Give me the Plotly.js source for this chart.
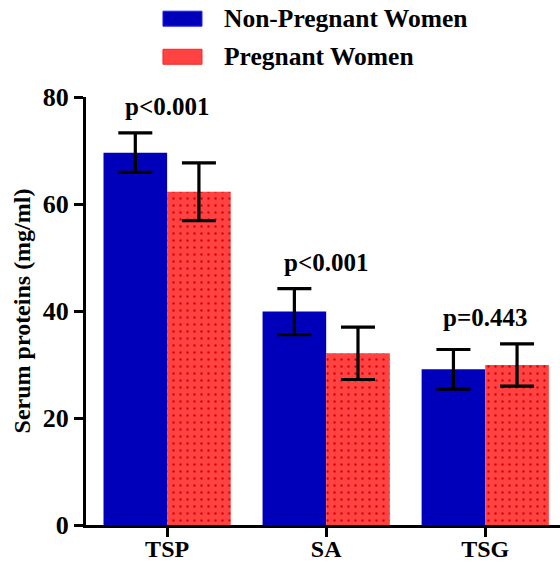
<!DOCTYPE html>
<html>
<head>
<meta charset="utf-8">
<script src="https://cdn.plot.ly/plotly-3.0.1.min.js"></script>
<style>html,body{margin:0;padding:0;background:#fff;}#chart{width:560px;height:562px;}</style>
</head>
<body>
<div id="chart"></div>
<script>
const categories = ["TSP", "SA", "TSG"];
const nonPregnantMean = [69.6, 39.9, 29.1];
const nonPregnantSD = [3.7, 4.3, 3.7];
const pregnantMean = [62.3, 32.1, 29.9];
const pregnantSD = [5.4, 4.9, 3.95];
const pValues = ["p<0.001", "p<0.001", "p=0.443"];
const seriesNames = ["Non-Pregnant Women", "Pregnant Women"];
const yTicks = [0, 20, 40, 60, 80];

const FONT = "'Liberation Serif', 'Times New Roman', serif";
const BLUE = "#0000bb";
const RED = "#ff4343";

const errStyle = {type: "data", visible: true, color: "#000", thickness: 3.2, width: 17};

const traces = [
  {
    type: "bar", name: seriesNames[0], x: categories, y: nonPregnantMean,
    marker: {color: BLUE, line: {width: 0}},
    error_y: Object.assign({array: nonPregnantSD}, errStyle),
    showlegend: false
  },
  {
    type: "bar", name: seriesNames[1], x: categories, y: pregnantMean,
    marker: {color: RED, line: {width: 0},
      pattern: {shape: ".", fgcolor: "#e00000", bgcolor: RED, size: 7, solidity: 0.1, fillmode: "replace"}},
    error_y: Object.assign({array: pregnantSD}, errStyle),
    showlegend: false
  }
];

const annotations = categories.map((c, i) => ({
  xref: "x", yref: "y", x: c,
  y: Math.max(nonPregnantMean[i] + nonPregnantSD[i], pregnantMean[i] + pregnantSD[i]) + 2.0,
  yanchor: "bottom", xanchor: "center", showarrow: false,
  text: "<b>" + pValues[i] + "</b>",
  font: {family: FONT, size: 25, color: "#000"}
}));

// custom legend
const legendY = [1.183, 1.094];
const legendColors = [BLUE, RED];
const shapes = [];
seriesNames.forEach((n, i) => {
  shapes.push({
    type: "rect", xref: "paper", yref: "paper",
    x0: 0.1624, x1: 0.2447, y0: legendY[i] - 0.0175, y1: legendY[i] + 0.0175,
    fillcolor: legendColors[i], line: {width: 1, color: i === 0 ? "#2020ff" : "#ff2020"}
  });
  annotations.push({
    xref: "paper", yref: "paper", x: 0.287, y: legendY[i],
    xanchor: "left", yanchor: "middle", showarrow: false,
    text: "<b>" + n + "</b>",
    font: {family: FONT, size: 25.5, color: "#000"}
  });
});

const layout = {
  width: 560, height: 562,
  margin: {l: 86, r: 0, t: 97, b: 37, pad: 0},
  paper_bgcolor: "#fff", plot_bgcolor: "#fff",
  barmode: "group", bargap: 0.2, bargroupgap: 0,
  showlegend: false,
  font: {family: FONT, color: "#000"},
  xaxis: {
    type: "category", range: [-0.51, 2.47],
    showline: true, linecolor: "#000", linewidth: 3,
    ticks: "outside", ticklen: 9, tickwidth: 3, tickcolor: "#000",
    ticklabelstandoff: -9,
    tickfont: {family: FONT, size: 24, color: "#000", weight: "bold"},
    showgrid: false, zeroline: false, fixedrange: true
  },
  yaxis: {
    range: [0, 80], tickvals: yTicks, ticktext: yTicks.map(String),
    showline: true, linecolor: "#000", linewidth: 3,
    ticks: "outside", ticklen: 9, tickwidth: 3, tickcolor: "#000",
    tickfont: {family: FONT, size: 26, color: "#000", weight: "bold"},
    showgrid: false, zeroline: false,
    title: {text: "<b>Serum proteins (mg/ml)</b>", font: {family: FONT, size: 24, color: "#000"}, standoff: 6}
  },
  annotations: annotations,
  shapes: shapes
};

Plotly.newPlot("chart", traces, layout, {displayModeBar: false, staticPlot: true});
</script>
</body>
</html>
